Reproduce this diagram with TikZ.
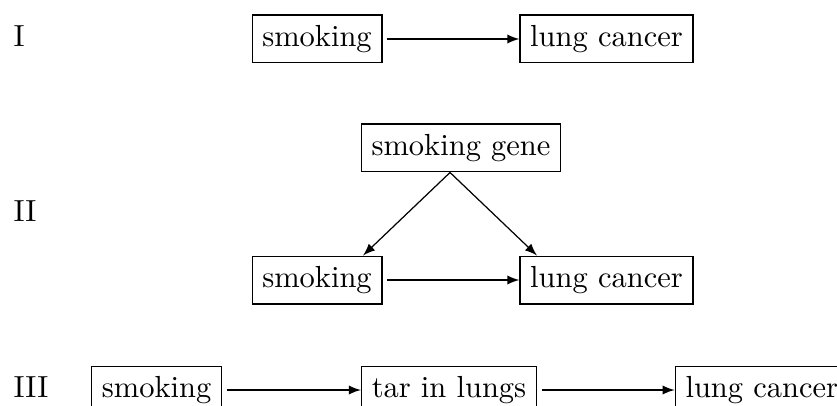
\documentclass[tikz,border=0pt]{standalone}
\usetikzlibrary{arrows}
\begin{document}
\begin{tikzpicture}[x=0.3279pt,y=-0.3279pt,
  box/.style={draw,rectangle},
  lab/.style={anchor=base west,inner sep=0pt},
  conn/.style={-latex},
  hconn/.style={-latex,shorten <=1.6pt}]
\useasboundingbox (0,0) rectangle (837,405);
% row I
\node[box] (s1) at (317,39) {smoking};
\node[box] (l1) at (606.5,39) {lung cancer};
\draw[hconn] (s1) -- (l1);
% row II
\node[box] (g2) at (461,148) {smoking gene};
\node[box] (s2) at (317,280) {smoking};
\node[box] (l2) at (606.5,280) {lung cancer};
\coordinate (apex) at ([xshift=-3.6pt]g2.south);
\draw[conn] (apex) -- ([xshift=15.1pt]s2.north);
\draw[conn] (apex) -- ([xshift=-22.8pt]l2.north);
\draw[hconn] (s2) -- (l2);
% row III
\node[box] (s3) at (156.7,390) {smoking};
\node[box] (t3) at (449,390) {tar in lungs};
\node[box] (l3) at (761.8,390) {lung cancer};
\draw[hconn] (s3) -- (t3);
\draw[hconn] (t3) -- (l3);
% labels
\node[lab] (la) at (13,46.6) {I};
\node[lab] (lb) at (13,221.6) {II};
\node[lab] (lc) at (13,397.6) {III};
\end{tikzpicture}
\end{document}
